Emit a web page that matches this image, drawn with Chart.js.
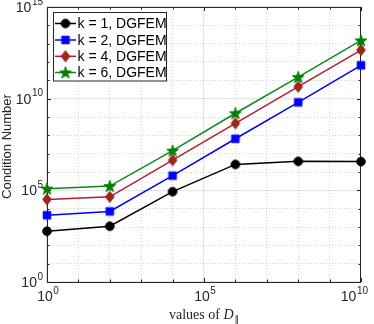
<!DOCTYPE html>
<html><head><meta charset="utf-8">
<script src="https://cdn.jsdelivr.net/npm/chart.js@4/dist/chart.umd.min.js"></script>
<style>html,body{margin:0;padding:0;background:#fff}canvas{display:block}</style>
</head><body>
<canvas id="c" width="374" height="324"></canvas>
<script>
// ---- data ----
const xValues = [1, 1e2, 1e4, 1e6, 1e8, 1e10];
const seriesLabels = ['k = 1, DGFEM', 'k = 2, DGFEM', 'k = 4, DGFEM', 'k = 6, DGFEM'];
const k1Values = [590, 1100, 8.5e4, 2.6e6, 3.8e6, 3.7e6];
const k2Values = [4400, 7100, 6.3e5, 6.5e7, 6.3e9, 6.6e11];
const k4Values = [3.2e4, 4.4e4, 4.4e6, 4.5e8, 4.5e10, 4.5e12];
const k6Values = [1.23e5, 1.7e5, 1.45e7, 1.6e9, 1.5e11, 1.5e13];
const xTickExponents = [0, 1, 2, 3, 4, 5, 6, 7, 8, 9, 10];
const yTickExponents = [0, 1, 2, 3, 4, 5, 6, 7, 8, 9, 10, 11, 12, 13, 14, 15];
const labeledExponentStep = 5;
const xTitleMain = 'values of ';
const xTitleVar = 'D';
const xTitleSub = '\u2016';
const yTitle = 'Condition Number';

// ---- markers ----
function makeMarker(type, fill, stroke) {
  const s = 16, c = document.createElement('canvas');
  c.width = s; c.height = s;
  const g = c.getContext('2d');
  const m = s / 2;
  g.fillStyle = fill; g.strokeStyle = stroke; g.lineWidth = 1;
  g.beginPath();
  if (type === 'circle') {
    g.arc(m, m, 4.3, 0, Math.PI * 2);
  } else if (type === 'square') {
    g.rect(m - 3.8, m - 3.8, 7.6, 7.6);
  } else if (type === 'diamond') {
    g.moveTo(m, m - 5.6); g.lineTo(m + 4.3, m); g.lineTo(m, m + 5.6); g.lineTo(m - 4.3, m); g.closePath();
  } else if (type === 'star') {
    const R = 6.2, r = 2.5;
    for (let i = 0; i < 10; i++) {
      const a = -Math.PI / 2 + i * Math.PI / 5;
      const rr = i % 2 === 0 ? R : r;
      const px = m + rr * Math.cos(a), py = m + 0.5 + rr * Math.sin(a);
      if (i === 0) g.moveTo(px, py); else g.lineTo(px, py);
    }
    g.closePath();
  }
  g.fill(); g.stroke();
  return c;
}
const markers = [
  makeMarker('circle', '#000000', '#000000'),
  makeMarker('square', '#0000ff', '#0000ff'),
  makeMarker('diamond', '#992a0e', '#a2142f'),
  makeMarker('star', '#008000', '#008000')
];
const lineColors = ['#000000', '#0000ff', '#b01e32', '#12861a'];
const allSeries = [k1Values, k2Values, k4Values, k6Values];

const datasets = allSeries.map((vals, i) => ({
  label: seriesLabels[i],
  data: xValues.map((x, j) => ({ x: x, y: vals[j] })),
  borderColor: lineColors[i],
  backgroundColor: lineColors[i],
  borderWidth: 1.5,
  pointStyle: markers[i],
  pointRadius: 5,
  pointHoverRadius: 5,
  tension: 0,
  clip: false
}));

const AX = '#262626';
function isMajor(v) {
  const e = Math.round(Math.log10(v));
  return e % labeledExponentStep === 0;
}
function decadeTicks(exps) { return exps.map(e => ({ value: Math.pow(10, e) })); }

const gridCfg = {
  color: (ctx) => (ctx.tick && isMajor(ctx.tick.value)) ? 'rgba(0,0,0,0.10)' : 'rgba(0,0,0,0.22)',
  lineWidth: (ctx) => (ctx.tick && isMajor(ctx.tick.value)) ? 1.2 : 0.8,
  drawTicks: false
};
const borderCfg = {
  display: false,
  dash: (ctx) => (ctx.tick && isMajor(ctx.tick.value)) ? [] : [1, 2]
};

function drawPow(g, exp, x, y, align, maxRight) {
  const base = '10', sup = String(exp);
  g.font = '14px "Liberation Sans", Arial, sans-serif';
  const wb = g.measureText(base).width;
  g.font = '10px "Liberation Sans", Arial, sans-serif';
  const ws = g.measureText(sup).width;
  const w = wb + ws + 0.5;
  let left = align === 'right' ? x - w : x - w / 2;
  if (maxRight && left + w > maxRight) left = maxRight - w;
  g.fillStyle = AX;
  g.textBaseline = 'middle';
  g.textAlign = 'left';
  g.font = '14px "Liberation Sans", Arial, sans-serif';
  g.fillText(base, left, y);
  g.font = '10px "Liberation Sans", Arial, sans-serif';
  g.fillText(sup, left + wb + 0.5, y - 6);
}

const matlabPlugin = {
  id: 'matlabLook',
  beforeDatasetsDraw(chart) {
    const g = chart.ctx, a = chart.chartArea;
    const xs = chart.scales.x, ys = chart.scales.y;
    g.save();
    g.strokeStyle = AX; g.lineWidth = 1;
    g.strokeRect(Math.round(a.left) + 0.5, Math.round(a.top) + 0.5, Math.round(a.right - a.left) - 1, Math.round(a.bottom - a.top));
    g.beginPath();
    xs.ticks.forEach(t => {
      const px = Math.round(xs.getPixelForValue(t.value)) + 0.5;
      const L = isMajor(t.value) ? 4 : 2.5;
      g.moveTo(px, a.bottom); g.lineTo(px, a.bottom - L);
      g.moveTo(px, a.top); g.lineTo(px, a.top + L);
    });
    ys.ticks.forEach(t => {
      const py = Math.round(ys.getPixelForValue(t.value)) + 0.5;
      const L = isMajor(t.value) ? 4 : 2.5;
      g.moveTo(a.left, py); g.lineTo(a.left + L, py);
      g.moveTo(a.right, py); g.lineTo(a.right - L, py);
    });
    g.stroke();
    g.restore();
  },
  afterDraw(chart) {
    const g = chart.ctx, a = chart.chartArea;
    const xs = chart.scales.x, ys = chart.scales.y;
    g.save();
    // tick labels
    xs.ticks.forEach(t => {
      if (!isMajor(t.value)) return;
      const e = Math.round(Math.log10(t.value));
      drawPow(g, e, xs.getPixelForValue(t.value) + 1, a.bottom + 15, 'center', 368);
    });
    ys.ticks.forEach(t => {
      if (!isMajor(t.value)) return;
      const e = Math.round(Math.log10(t.value));
      drawPow(g, e, a.left - 4, ys.getPixelForValue(t.value) + 1, 'right');
    });
    // y title
    g.save();
    g.translate(7, (a.top + a.bottom) / 2 + 2);
    g.rotate(-Math.PI / 2);
    g.font = '13px "Liberation Sans", Arial, sans-serif';
    g.fillStyle = AX; g.textAlign = 'center'; g.textBaseline = 'middle';
    g.fillText(yTitle, 0, 0);
    g.restore();
    // x title
    const fMain = '14px "Liberation Serif", "Times New Roman", serif';
    const fVar = 'italic 14px "Liberation Serif", "Times New Roman", serif';
    const fSub = '9px "DejaVu Sans", sans-serif';
    g.font = fMain; const w1 = g.measureText(xTitleMain).width;
    g.font = fVar; const w2 = g.measureText(xTitleVar).width;
    g.font = fSub; const w3 = g.measureText(xTitleSub).width;
    const cx = (a.left + a.right) / 2;
    let x0 = cx - (w1 + w2 + w3 + 1) / 2;
    const by = 319;
    g.fillStyle = AX; g.textAlign = 'left'; g.textBaseline = 'alphabetic';
    g.font = fMain; g.fillText(xTitleMain, x0, by);
    g.font = fVar; g.fillText(xTitleVar, x0 + w1, by);
    g.font = fSub; g.fillText(xTitleSub, x0 + w1 + w2 + 1, by + 3);
    // legend
    const bx = 53.5, bw = 113, bt = 12.5, bh = 68.5;
    g.fillStyle = '#ffffff';
    g.fillRect(bx, bt, bw, bh);
    g.strokeStyle = AX; g.lineWidth = 1;
    g.strokeRect(bx, bt, bw, bh);
    const rows = [23.5, 40, 56.3, 72.5];
    chart.data.datasets.forEach((ds, i) => {
      const ry = rows[i];
      g.strokeStyle = ds.borderColor; g.lineWidth = 1.5;
      g.beginPath(); g.moveTo(55, ry); g.lineTo(76, ry); g.stroke();
      const mk = ds.pointStyle;
      g.drawImage(mk, 65.5 - mk.width / 2, ry - mk.height / 2);
      g.fillStyle = '#000000';
      g.font = '14px "Liberation Sans", Arial, sans-serif';
      g.textAlign = 'left'; g.textBaseline = 'middle';
      g.fillText(ds.label, 77.5, ry + 1);
    });
    g.restore();
  }
};

new Chart(document.getElementById('c'), {
  type: 'line',
  data: { datasets: datasets },
  options: {
    responsive: false,
    animation: false,
    devicePixelRatio: 1,
    layout: { padding: { left: 0, top: 7, right: 13, bottom: 0 } },
    plugins: { legend: { display: false }, tooltip: { enabled: false } },
    scales: {
      x: {
        type: 'logarithmic',
        min: 1, max: 1e10,
        afterBuildTicks: (s) => { s.ticks = decadeTicks(xTickExponents); },
        afterFit: (s) => { s.height = 42; },
        ticks: { display: false },
        grid: gridCfg,
        border: borderCfg
      },
      y: {
        type: 'logarithmic',
        min: 1, max: 1e15,
        afterBuildTicks: (s) => { s.ticks = decadeTicks(yTickExponents); },
        afterFit: (s) => { s.width = 47; },
        ticks: { display: false },
        grid: gridCfg,
        border: borderCfg
      }
    }
  },
  plugins: [matlabPlugin]
});
</script>
</body></html>
